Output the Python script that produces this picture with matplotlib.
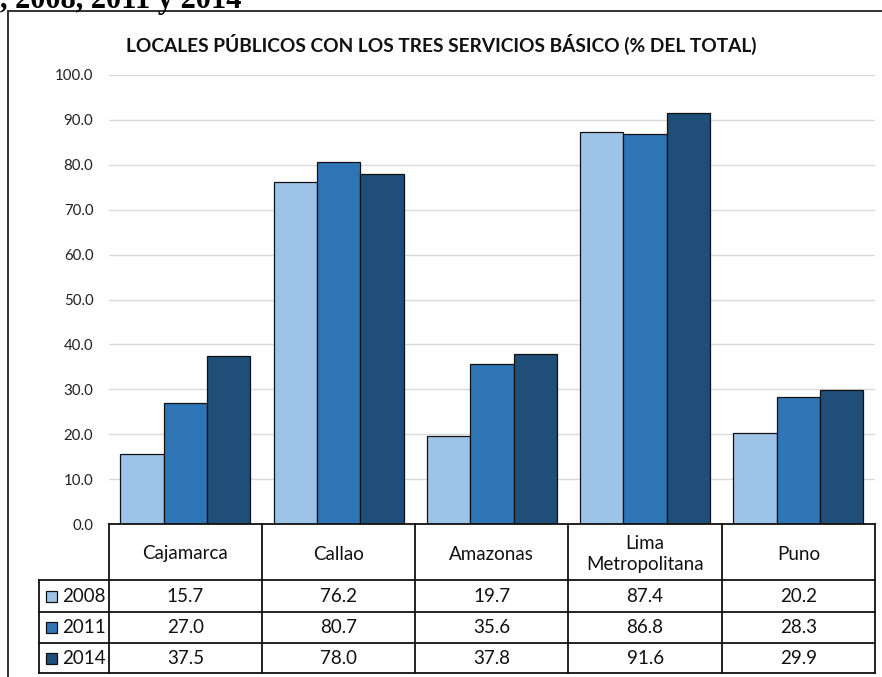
import numpy as np
import matplotlib.pyplot as plt
from matplotlib.patches import Rectangle

# data
categories = ["Cajamarca", "Callao", "Amazonas", "Lima\nMetropolitana", "Puno"]
years = ["2008", "2011", "2014"]
v2008 = [15.7, 76.2, 19.7, 87.4, 20.2]
v2011 = [27.0, 80.7, 35.6, 86.8, 28.3]
v2014 = [37.5, 78.0, 37.8, 91.6, 29.9]
series = [v2008, v2011, v2014]
colors = ["#9DC3E6", "#2E75B6", "#1F4E79"]
yticks = np.arange(0, 101, 10)

W, H = 882, 677
fig = plt.figure(figsize=(W / 100, H / 100), dpi=100)
plt.rcParams['font.family'] = ['Lato', 'DejaVu Sans']

def fx(px):
    return px / W

def fy(py):
    return 1 - py / H

# clipped heading from the document above the chart
fig.text(fx(0), fy(8), ", 2008, 2011 y 2014", family="Liberation Serif",
         fontweight="bold", fontsize=22, ha="left", va="baseline")

# chart border
fig.patches.append(Rectangle((fx(8), -0.1), 1.2, fy(11) + 0.1, transform=fig.transFigure,
                             fill=False, edgecolor="#222222", linewidth=1.3))

# main bar axes
left_px, right_px = 108.7, 875
top_px, bot_px = 75, 524
ax = fig.add_axes([fx(left_px), fy(bot_px), fx(right_px - left_px), (bot_px - top_px) / H])
x = np.arange(len(categories))
bw = 0.283
for i, (vals, c) in enumerate(zip(series, colors)):
    ax.bar(x + (i - 1) * bw, vals, bw, color=c, edgecolor="#111111", linewidth=0.9, zorder=3)
ax.set_xlim(-0.5, len(categories) - 0.5)
ax.set_ylim(0, 100)
ax.set_yticks(yticks)
ax.set_yticklabels([f"{t:.1f}" for t in yticks], fontsize=10.8, color="#222222")
ax.tick_params(axis="y", length=0, pad=11)
ax.set_xticks([])
ax.grid(axis="y", color="#D9D9D9", linewidth=1.0, zorder=0)
for s in ["top", "right", "left", "bottom"]:
    ax.spines[s].set_visible(False)

fig.text(0.5, fy(44), "LOCALES PÚBLICOS CON LOS TRES SERVICIOS BÁSICO (% DEL TOTAL)",
         fontweight="bold", fontsize=13.8, ha="center", va="center", color="#111111")

# data table below
tleft_px, tbot_px = 39, 673
tab = fig.add_axes([fx(tleft_px), fy(tbot_px), fx(right_px - tleft_px), (tbot_px - bot_px) / H])
colw = (right_px - left_px) / len(categories)
xl = -0.5 - (left_px - tleft_px) / colw
tab.set_xlim(xl, len(categories) - 0.5)
tab.set_ylim(tbot_px - bot_px, 0)
tab.axis("off")
row_edges = [0, 56, 88, 119, 149]
lc = "#111111"
lw = 1.3
# horizontal lines
tab.plot([-0.5, len(categories) - 0.5], [0, 0], color=lc, lw=lw, clip_on=False)
for r in row_edges[1:]:
    tab.plot([xl, len(categories) - 0.5], [r, r], color=lc, lw=lw, clip_on=False)
# vertical lines
for k in range(len(categories) + 1):
    tab.plot([k - 0.5, k - 0.5], [0, row_edges[-1]], color=lc, lw=lw, clip_on=False)
tab.plot([xl, xl], [row_edges[1], row_edges[-1]], color=lc, lw=lw, clip_on=False)

for k, cat in enumerate(categories):
    tab.text(k, row_edges[1] / 2 + 2, cat, ha="center", va="center", fontsize=13.5,
             color="#111111", linespacing=1.3)
for j, (yr, vals, c) in enumerate(zip(years, series, colors)):
    yc = (row_edges[j + 1] + row_edges[j + 2]) / 2
    for k, v in enumerate(vals):
        tab.text(k, yc, f"{v:.1f}", ha="center", va="center", fontsize=13.5, color="#111111")
    tab.add_patch(Rectangle((xl + 7 / colw, yc - 5.5), 11 / colw, 11, facecolor=c,
                            edgecolor="#111111", linewidth=0.9))
    tab.text(xl + 23 / colw, yc, yr, ha="left", va="center", fontsize=13.5, color="#111111")

fig.savefig("out.png", dpi=100)
